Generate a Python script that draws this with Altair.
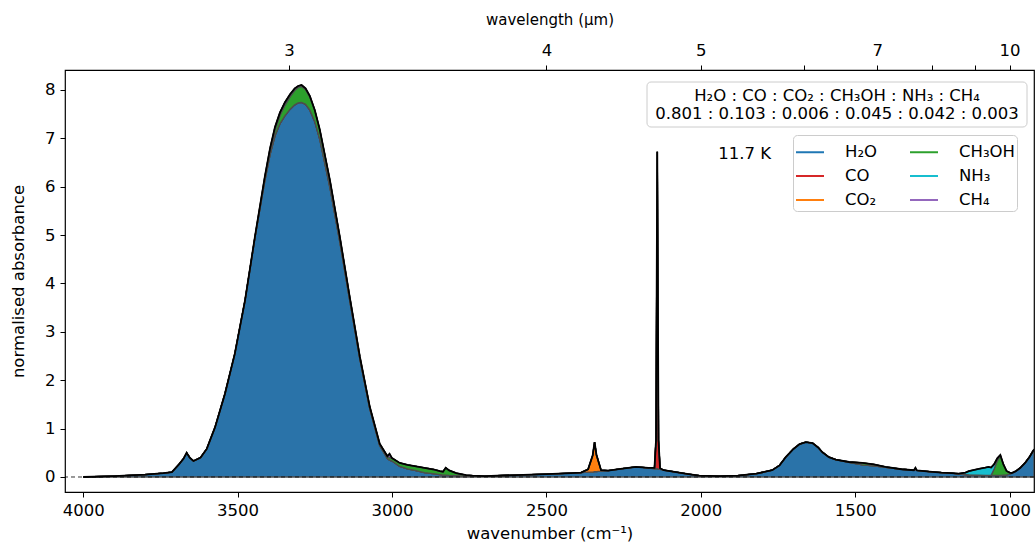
import altair as alt
import pandas as pd

# ---------------- data ----------------
wavenumber = [4000, 3900, 3800, 3740, 3713, 3690, 3675, 3665, 3655, 3643,
              3620, 3600, 3573, 3541, 3509, 3476, 3444, 3412, 3395, 3379,
              3363, 3347, 3330, 3315, 3304, 3293, 3280, 3266, 3250, 3234,
              3201, 3169, 3137, 3104, 3072, 3040,
              3015, 3008, 3000, 2975, 2950, 2922, 2895, 2868, 2845, 2835,
              2826, 2815, 2792, 2760, 2739, 2700, 2600, 2500, 2420, 2388,
              2365, 2350, 2344, 2338, 2323, 2300, 2260, 2210, 2170, 2150,
              2145, 2141, 2137, 2132, 2120, 2080, 2040, 2005, 1941, 1880,
              1820, 1769, 1745, 1725, 1700, 1680, 1660, 1638, 1620, 1606,
              1585, 1563, 1520, 1477, 1440, 1402, 1350, 1310, 1305, 1300,
              1260, 1220, 1187, 1165, 1143, 1132, 1100, 1079, 1068, 1060,
              1050, 1040, 1030, 1020, 1010, 1000, 993, 980, 965, 950,
              935, 921]

h2o = [0.00, 0.02, 0.05, 0.08, 0.10, 0.26, 0.38, 0.50, 0.40, 0.33,
       0.40, 0.58, 1.03, 1.72, 2.55, 3.65, 4.94, 6.12, 6.66, 7.05,
       7.30, 7.46, 7.60, 7.69, 7.73, 7.74, 7.70, 7.58, 7.34, 6.98,
       5.98, 4.86, 3.65, 2.43, 1.41, 0.65,
       0.38, 0.35, 0.33, 0.22, 0.17, 0.13, 0.09, 0.07, 0.05, 0.04,
       0.04, 0.035, 0.03, 0.02, 0.02, 0.02, 0.04, 0.06, 0.08, 0.09,
       0.10, 0.10, 0.11, 0.11, 0.12, 0.13, 0.17, 0.21, 0.19, 0.17,
       0.17, 0.17, 0.16, 0.16, 0.14, 0.10, 0.06, 0.03, 0.02, 0.03,
       0.07, 0.14, 0.24, 0.41, 0.58, 0.68, 0.72, 0.70, 0.61, 0.51,
       0.41, 0.36, 0.30, 0.25, 0.23, 0.20, 0.16, 0.14, 0.14, 0.135,
       0.11, 0.09, 0.08, 0.06, 0.05, 0.045, 0.04, 0.035, 0.035, 0.035,
       0.035, 0.035, 0.035, 0.04, 0.045, 0.06, 0.08, 0.12, 0.19, 0.29,
       0.42, 0.57]

# minor components: wavenumber -> absorbance (zero elsewhere)
co = {2150: 0.02, 2145: 0.60, 2141: 6.55, 2137: 0.60, 2132: 0.02}
co2 = {2365: 0.06, 2350: 0.35, 2344: 0.61, 2338: 0.35, 2323: 0.02}
ch3oh = {3444: 0.01, 3412: 0.05, 3395: 0.08, 3379: 0.12, 3363: 0.17,
         3347: 0.22, 3330: 0.26, 3315: 0.30, 3304: 0.32, 3293: 0.33,
         3280: 0.31, 3266: 0.27, 3250: 0.23, 3234: 0.19, 3201: 0.14,
         3169: 0.10, 3137: 0.07, 3104: 0.05, 3072: 0.04, 3040: 0.04,
         3015: 0.05, 3008: 0.05, 3000: 0.06, 2975: 0.07, 2950: 0.08,
         2922: 0.09, 2895: 0.10, 2868: 0.09, 2845: 0.07, 2835: 0.07,
         2826: 0.15, 2815: 0.10, 2792: 0.05, 2760: 0.02, 2739: 0.01,
         1520: 0.01, 1477: 0.04, 1440: 0.03, 1402: 0.01,
         1050: 0.13, 1040: 0.30, 1030: 0.40, 1020: 0.22, 1010: 0.08, 1000: 0.03}
nh3 = {3444: 0.01, 3412: 0.03, 3395: 0.05, 3379: 0.06, 3363: 0.06,
       3347: 0.06, 3330: 0.05, 3315: 0.04, 3304: 0.03, 3293: 0.03,
       3280: 0.02, 3266: 0.02, 3250: 0.01, 3234: 0.01, 3201: 0.01,
       1165: 0.01, 1143: 0.04, 1132: 0.075, 1100: 0.13, 1079: 0.16,
       1068: 0.175, 1060: 0.16, 1050: 0.10, 1040: 0.05, 1030: 0.02}
ch4 = {3008: 0.08, 1305: 0.05}

species = ["H₂O", "CO", "CO₂", "CH₃OH", "NH₃", "CH₄"]
fill_colors = ["#2a73a9", "#d62728", "#ff7f0e", "#2ca02c", "#17becf", "#9467bd"]
line_colors = ["#1f77b4", "#d62728", "#ff7f0e", "#2ca02c", "#17becf", "#9467bd"]
ratios = ["0.801", "0.103", "0.006", "0.045", "0.042", "0.003"]
temperature_label = "11.7 K"

bottom_ticks = [4000, 3500, 3000, 2500, 2000, 1500, 1000]
top_tick_wavelengths = [3, 4, 5, 6, 7, 8, 9, 10]
top_labelled = [3, 4, 5, 7, 10]
y_ticks = [0, 1, 2, 3, 4, 5, 6, 7, 8]

# ---------------- build long table ----------------
rows = []
minor = [co, co2, ch3oh, nh3, ch4]
for i, w in enumerate(wavenumber):
    rows.append({"wn": w, "value": h2o[i], "species": species[0], "k": 0})
    for j, comp in enumerate(minor):
        rows.append({"wn": w, "value": comp.get(w, 0.0), "species": species[j + 1], "k": j + 1})
df = pd.DataFrame(rows)

FONT = "DejaVu Sans"
FS = 16.5
xdomain = [921, 4059]
xscale = alt.Scale(domain=xdomain, reverse=True, nice=False, zero=False)
yscale = alt.Scale(domain=[-0.31, 8.41], nice=False, zero=False)

x_bottom_axis = alt.Axis(values=bottom_ticks, title="wavenumber (cm⁻¹)", format="d",
                         labelPadding=5, titlePadding=7)
y_axis = alt.Axis(values=y_ticks, title="normalised absorbance", labelPadding=5,
                  titlePadding=18)

top_values = [10000.0 / w for w in top_tick_wavelengths]
label_expr = ("indexof(%s, round(10000/datum.value)) >= 0 ? '' + round(10000/datum.value) : ''"
              % str(top_labelled))
x_top_axis = alt.Axis(orient="top", values=top_values, labelExpr=label_expr,
                      title="wavelength (µm)", titleFontSize=15, labelPadding=7,
                      titlePadding=15)

base = alt.Chart(df)

# fill scale listed in reverse so that it is not merged with the (line) legend scale
areas = base.mark_area(stroke="#4d4d4d", strokeWidth=1.3, clip=True).encode(
    x=alt.X("wn:Q", scale=xscale, axis=x_bottom_axis),
    y=alt.Y("value:Q", stack="zero", scale=yscale, axis=y_axis),
    fill=alt.Fill("species:N",
                  scale=alt.Scale(domain=species[::-1], range=fill_colors[::-1]),
                  legend=None),
    order=alt.Order("k:Q", sort="ascending"),
)

legend_layer = base.transform_filter(alt.datum.wn == 4000).transform_calculate(
    component="datum.species"
).mark_line(strokeWidth=2).encode(
    x=alt.X("wn:Q", scale=xscale, axis=None),
    y=alt.Y("value:Q", scale=yscale, axis=y_axis),
    stroke=alt.Stroke(
        "component:N",
        scale=alt.Scale(domain=species, range=line_colors),
        legend=alt.Legend(
            title=None, orient="none", legendX=728, legendY=65, columns=2,
            symbolType="stroke", symbolSize=784, symbolStrokeWidth=2,
            labelFontSize=FS, labelFont=FONT, labelOffset=20,
            columnPadding=28, rowPadding=-3, padding=2,
            strokeColor="#cccccc", cornerRadius=4, fillColor="white",
        ),
    ),
)

zero_rule = alt.Chart(pd.DataFrame({"value": [0.0]})).mark_rule(
    color="black", strokeDash=[4, 3], strokeWidth=0.8
).encode(y=alt.Y("value:Q", scale=yscale, axis=y_axis))

total_line = base.transform_aggregate(
    value="sum(value)", groupby=["wn"]
).mark_line(color="black", strokeWidth=1.8, clip=True).encode(
    x=alt.X("wn:Q", scale=xscale, axis=x_top_axis),
    y=alt.Y("value:Q", scale=yscale, axis=y_axis),
)

annot = pd.DataFrame({
    "line1": [" : ".join(species)],
    "line2": [" : ".join(ratios)],
    "temp": [temperature_label],
})
abox = alt.Chart(annot)
box = abox.mark_rect(fill="white", stroke="#cccccc", strokeWidth=1, cornerRadius=4).encode(
    x=alt.value(582), x2=alt.value(962), y=alt.value(12), y2=alt.value(57))
t1 = abox.mark_text(font=FONT, fontSize=FS, align="center", baseline="middle").encode(
    x=alt.value(772), y=alt.value(26), text="line1:N")
t2 = abox.mark_text(font=FONT, fontSize=FS, align="center", baseline="middle").encode(
    x=alt.value(772), y=alt.value(44), text="line2:N")
t3 = abox.mark_text(font=FONT, fontSize=FS, align="right", baseline="middle").encode(
    x=alt.value(706), y=alt.value(84), text="temp:N")

chart = alt.layer(
    areas, legend_layer, zero_rule, total_line, box, t1, t2, t3
).resolve_scale(x="independent").properties(
    width=969, height=422,
    autosize=alt.AutoSizeParams(type="none"),
    padding={"left": 65, "top": 70, "right": 1, "bottom": 52},
).configure_view(
    stroke="black", strokeWidth=1.2
).configure_axis(
    grid=False, domain=False, tickColor="black", tickSize=5, tickWidth=1,
    labelColor="black", titleColor="black", labelFont=FONT, titleFont=FONT,
    labelFontSize=FS, titleFontSize=FS, titleFontWeight="normal",
)

chart.save("out.html", embed_options={"renderer": "svg", "actions": False})
